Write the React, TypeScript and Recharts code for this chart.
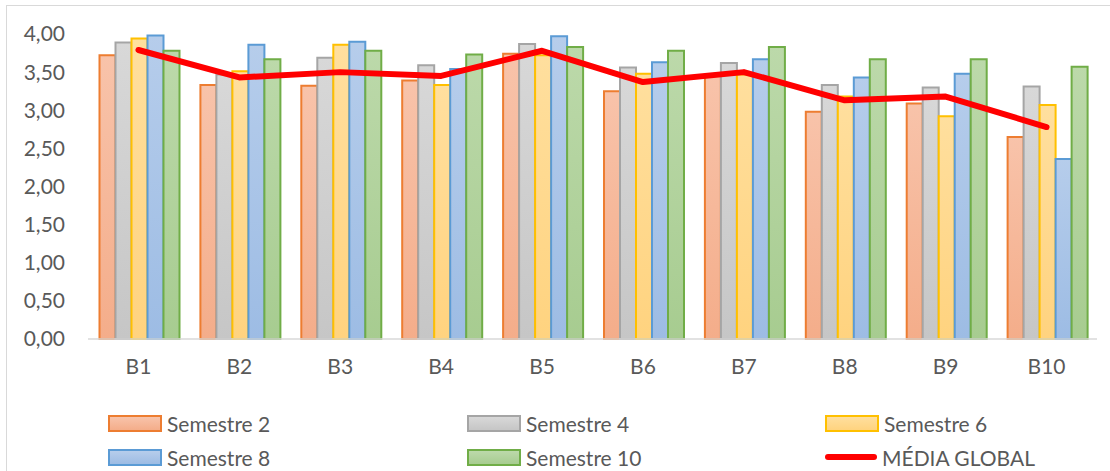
import React from "react"
import { ComposedChart, Bar, Line, XAxis, YAxis } from "recharts"

const categories = ["B1", "B2", "B3", "B4", "B5", "B6", "B7", "B8", "B9", "B10"]
const semestre2 = [3.72, 3.33, 3.32, 3.39, 3.74, 3.25, 3.46, 2.98, 3.09, 2.65]
const semestre4 = [3.89, 3.47, 3.69, 3.59, 3.87, 3.56, 3.62, 3.33, 3.30, 3.31]
const semestre6 = [3.94, 3.51, 3.86, 3.33, 3.72, 3.48, 3.47, 3.18, 2.92, 3.07]
const semestre8 = [3.98, 3.86, 3.90, 3.54, 3.97, 3.63, 3.67, 3.43, 3.48, 2.36]
const semestre10 = [3.78, 3.67, 3.78, 3.73, 3.83, 3.78, 3.83, 3.67, 3.67, 3.57]
const mediaGlobal = [3.79, 3.43, 3.50, 3.45, 3.78, 3.37, 3.50, 3.13, 3.18, 2.78]
const yTicks = [0, 0.5, 1, 1.5, 2, 2.5, 3, 3.5, 4]

const data = categories.map((c, i) => ({
  name: c,
  s2: semestre2[i],
  s4: semestre4[i],
  s6: semestre6[i],
  s8: semestre8[i],
  s10: semestre10[i],
  media: mediaGlobal[i],
}))

const series = [
  { key: "s2", label: "Semestre 2", top: "#F8C3AA", bottom: "#F4AD8A", stroke: "#ED7D31" },
  { key: "s4", label: "Semestre 4", top: "#D8D8D8", bottom: "#C6C6C6", stroke: "#A5A5A5" },
  { key: "s6", label: "Semestre 6", top: "#FFDF9E", bottom: "#FFD37F", stroke: "#FFC000" },
  { key: "s8", label: "Semestre 8", top: "#B6CDEB", bottom: "#9DBCE4", stroke: "#5B9BD5" },
  { key: "s10", label: "Semestre 10", top: "#BCD9AA", bottom: "#A7CC90", stroke: "#70AD47" },
]

const FONT = "Lato, 'Noto Sans', sans-serif"
const TEXT = "#595959"

const fmt = (v: number) => v.toFixed(2).replace(".", ",")

function Swatch({ s }: { s: (typeof series)[number] }) {
  return (
    <span
      style={{
        display: "inline-block",
        width: 50,
        height: 13,
        border: `2px solid ${s.stroke}`,
        background: `linear-gradient(${s.top}, ${s.bottom})`,
        marginRight: 5,
        verticalAlign: "middle",
      }}
    />
  )
}

function LegendItem({ x, y, children, label }: any) {
  return (
    <div
      style={{
        position: "absolute",
        left: x,
        top: y,
        height: 30,
        display: "flex",
        alignItems: "center",
        fontFamily: FONT,
        fontSize: 21,
        color: TEXT,
        whiteSpace: "nowrap",
      }}
    >
      {children}
      <span>{label}</span>
    </div>
  )
}

export default function App() {
  const cols = [108, 467, 825]
  const rows = [408, 442]
  return (
    <div style={{ position: "fixed", left: 0, top: 0, width: 1110, height: 471, background: "#fff", overflow: "hidden" }}>
      <div
        style={{
          position: "absolute",
          left: 6,
          top: 5,
          width: 1200,
          height: 600,
          borderLeft: "1px solid #D9D9D9",
          borderTop: "1px solid #D9D9D9",
        }}
      />
      <ComposedChart
        width={1110}
        height={471}
        data={data}
        margin={{ top: 34, right: 13, left: 0, bottom: 102 }}
        barCategoryGap="11.4%"
        barGap={0}
        style={{ position: "absolute", left: 0, top: 0 }}
      >
        <defs>
          {series.map((s) => (
            <linearGradient key={s.key} id={`g-${s.key}`} x1="0" y1="0" x2="0" y2="1">
              <stop offset="0%" stopColor={s.top} />
              <stop offset="100%" stopColor={s.bottom} />
            </linearGradient>
          ))}
        </defs>
        <XAxis
          dataKey="name"
          height={30}
          axisLine={{ stroke: "#D9D9D9", strokeWidth: 1.5 }}
          tickLine={false}
          tickMargin={14}
          tick={{ fontSize: 21, fill: TEXT, fontFamily: FONT }}
        />
        <YAxis
          width={88}
          domain={[0, 4]}
          ticks={yTicks}
          interval={0}
          axisLine={false}
          tickLine={false}
          tickMargin={17}
          tickFormatter={fmt}
          tick={{ fontSize: 21, fill: TEXT, fontFamily: FONT }}
        />
        {series.map((s) => (
          <Bar
            key={s.key}
            dataKey={s.key}
            fill={`url(#g-${s.key})`}
            stroke={s.stroke}
            strokeWidth={2}
            isAnimationActive={false}
          />
        ))}
        <Line
          dataKey="media"
          type="linear"
          stroke="#FF0000"
          strokeWidth={6}
          strokeLinecap="round"
          strokeLinejoin="round"
          dot={false}
          activeDot={false}
          isAnimationActive={false}
        />
      </ComposedChart>
      <LegendItem x={cols[0]} y={rows[0]} label="Semestre 2"><Swatch s={series[0]} /></LegendItem>
      <LegendItem x={cols[1]} y={rows[0]} label="Semestre 4"><Swatch s={series[1]} /></LegendItem>
      <LegendItem x={cols[2]} y={rows[0]} label="Semestre 6"><Swatch s={series[2]} /></LegendItem>
      <LegendItem x={cols[0]} y={rows[1]} label="Semestre 8"><Swatch s={series[3]} /></LegendItem>
      <LegendItem x={cols[1]} y={rows[1]} label="Semestre 10"><Swatch s={series[4]} /></LegendItem>
      <LegendItem x={cols[2]} y={rows[1]} label="MÉDIA GLOBAL">
        <span style={{ display: "inline-block", width: 52, height: 6, borderRadius: 3, background: "#FF0000", marginRight: 5 }} />
      </LegendItem>
    </div>
  )
}
